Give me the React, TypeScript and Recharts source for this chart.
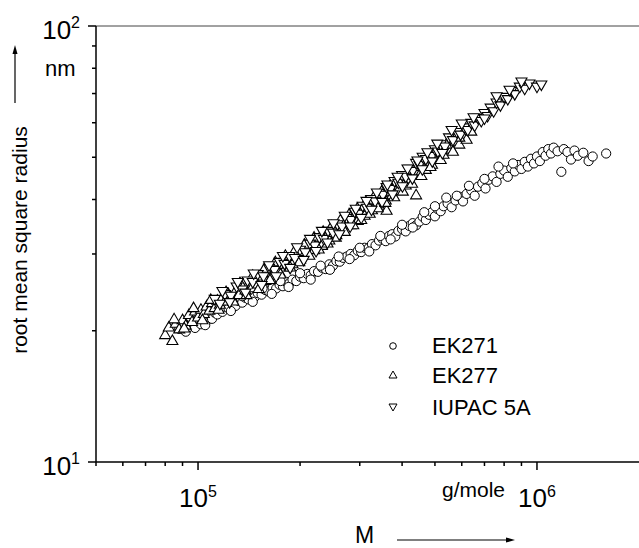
import React from "react";
import { ScatterChart, Scatter, XAxis, YAxis, ReferenceLine, Legend } from "recharts";

const FONT = "'Liberation Sans', Arial, sans-serif";

// EK271 (circles)
const ek271M = [
  88000, 90000, 92000, 94000, 96000, 98000, 100000, 102000, 104000, 106000,
  108000, 110000, 112000, 114000, 116000, 118000, 120000, 123000, 126000, 129000,
  132000, 135000, 138000, 141000, 144000, 147000, 150000, 154000, 158000, 162000,
  166000, 170000, 174000, 178000, 182000, 186000, 190000, 195000, 200000, 205000,
  210000, 215000, 220000, 226000, 232000, 238000, 244000, 250000, 256000, 262000,
  268000, 275000, 282000, 289000, 296000, 303000, 310000, 318000, 326000, 334000,
  342000, 350000, 358000, 366000, 374000, 382000, 390000, 400000, 410000, 420000,
  430000, 440000, 450000, 460000, 470000, 480000, 490000, 500000, 510000, 520000,
  530000, 545000, 560000, 575000, 590000, 605000, 620000, 640000, 655000, 670000,
  690000, 705000, 720000, 740000, 760000, 780000, 800000, 820000, 840000, 860000,
  880000, 900000, 920000, 940000, 960000, 980000, 1000000, 1020000, 1040000, 1060000,
  1080000, 1100000, 1120000, 1150000, 1180000, 1200000, 1230000, 1260000, 1290000, 1320000,
  1370000, 1420000, 1460000, 1600000,
  95000, 105000, 115000, 125000, 135000, 145000, 155000, 165000, 175000, 185000,
  200000, 215000, 230000, 245000, 260000, 280000, 300000, 320000, 345000, 370000,
  400000, 430000, 465000, 500000, 540000, 580000, 630000, 700000, 770000, 850000,
];
const ek271R = [
  20.2, 20.6, 19.9, 20.4, 20.9, 20.3, 21.0, 20.7, 21.4, 21.1,
  21.7, 21.3, 22.0, 21.8, 22.4, 22.1, 22.7, 22.5, 23.1, 22.8,
  23.4, 23.2, 23.8, 23.6, 24.1, 23.9, 24.4, 24.2, 24.8, 24.6,
  25.1, 25.0, 25.5, 25.3, 25.9, 25.7, 26.2, 26.0, 26.6, 26.4,
  27.0, 26.8, 27.4, 27.3, 27.9, 27.7, 28.4, 28.2, 28.9, 28.8,
  29.4, 29.6, 30.0, 29.8, 30.5, 30.3, 31.0, 30.9, 31.6, 31.4,
  32.2, 32.5, 32.1, 33.0, 33.3, 32.9, 33.9, 34.2, 33.8, 34.8,
  35.3, 34.9, 35.6, 36.5, 35.9, 36.9, 37.4, 36.6, 38.0, 37.6,
  38.6, 39.2, 38.4, 39.8, 40.6, 39.6, 41.2, 42.0, 40.8, 42.8,
  43.6, 42.4, 44.4, 45.2, 43.9, 45.8, 46.6, 45.1, 47.2, 46.4,
  48.0, 47.0, 48.8, 47.6, 49.6, 48.4, 50.2, 49.0, 51.4, 50.4,
  52.2, 51.0, 52.6, 51.6, 46.3, 52.2, 51.4, 49.4, 51.8, 50.4,
  51.2, 49.0, 50.2, 51.0,
  21.5, 20.6, 22.9, 22.2, 24.0, 23.3, 25.0, 24.3, 26.0, 25.2,
  27.1, 26.2, 28.2, 27.6, 29.6, 29.2, 31.0, 30.4, 33.0, 32.4,
  35.0, 34.5, 37.4, 38.6, 40.4, 40.8, 43.0, 44.6, 47.6, 48.4,
];

// EK277 (up triangles)
const ek277M = [
  80000, 82000, 84000, 86000, 88000, 90000, 92000, 94000, 96000, 98000,
  100000, 102000, 104000, 106000, 108000, 110000, 112000, 114000, 116000, 118000,
  120000, 123000, 126000, 129000, 132000, 135000, 138000, 141000, 144000, 147000,
  150000, 154000, 158000, 162000, 166000, 170000, 174000, 178000, 182000, 186000,
  190000, 195000, 200000, 205000, 210000, 215000, 220000, 226000, 232000, 238000,
  244000, 250000, 256000, 262000, 268000, 275000, 282000, 289000, 296000, 303000,
  310000, 318000, 326000, 334000, 342000, 345000, 350000, 358000, 360000, 366000,
  374000, 382000, 390000, 400000, 410000, 420000, 430000, 440000, 440000, 450000,
  460000, 470000, 480000, 490000, 500000, 510000, 520000, 530000, 545000, 560000,
  575000, 590000, 605000, 620000, 640000,
  85000, 91000, 97000, 103000, 109000, 115000, 121000, 127000, 133000, 139000,
  145000, 151000, 157000, 163000, 169000, 175000, 181000, 187000, 193000, 199000,
  206000, 213000, 220000, 227000, 234000, 241000, 248000, 255000, 263000, 271000,
  279000, 287000, 295000, 303000, 312000, 321000, 330000, 339000, 348000, 357000,
  368000, 379000, 390000, 402000, 415000, 428000, 442000, 456000, 470000, 485000,
  500000, 520000, 540000, 565000, 590000,
];
const ek277R = [
  19.6, 20.4, 19.0, 20.8, 20.2, 21.2, 20.6, 21.8, 21.0, 22.2,
  21.5, 22.4, 21.9, 22.8, 22.3, 23.2, 22.6, 23.5, 23.0, 23.9,
  23.4, 24.3, 23.8, 24.7, 24.2, 25.2, 24.8, 25.7, 25.1, 26.2,
  25.6, 26.7, 26.1, 27.2, 26.8, 27.9, 27.3, 28.4, 28.0, 29.1,
  28.5, 29.6, 29.2, 30.4, 30.0, 31.3, 30.7, 32.0, 31.4, 32.8,
  32.3, 33.6, 33.2, 34.6, 34.0, 35.5, 35.0, 36.4, 35.8, 37.4,
  36.8, 38.4, 37.9, 39.5, 38.8, 40.5, 40.6, 39.9, 37.8, 41.6,
  41.0, 42.7, 42.0, 43.8, 43.2, 45.6, 46.0, 41.0, 46.3, 45.6,
  47.6, 46.9, 48.8, 48.2, 50.2, 49.4, 51.6, 50.8, 53.0, 52.2,
  54.4, 53.6, 56.0, 55.0, 57.4,
  21.3, 20.3, 22.6, 21.2, 23.6, 22.4, 24.6, 23.4, 25.8, 24.2,
  26.8, 25.0, 27.8, 26.2, 28.8, 27.0, 29.8, 28.0, 30.6, 28.8,
  31.6, 29.8, 32.8, 30.8, 33.8, 31.8, 34.8, 32.8, 35.9, 33.8,
  37.0, 35.0, 38.2, 36.0, 39.4, 37.2, 40.6, 38.3, 41.8, 39.4,
  43.0, 40.6, 44.2, 41.8, 45.6, 43.6, 47.6, 45.4, 49.6, 47.6,
  51.6, 49.4, 53.6, 51.6, 55.6,
];

// IUPAC 5A (down triangles)
const iupacM = [
  112000, 116000, 120000, 125000, 130000, 135000, 140000, 145000, 150000, 156000,
  162000, 168000, 174000, 180000, 186000, 193000, 200000, 207000, 214000, 221000,
  228000, 235000, 242000, 250000, 258000, 266000, 274000, 282000, 290000, 298000,
  306000, 315000, 324000, 333000, 342000, 351000, 360000, 370000, 380000, 390000,
  400000, 410000, 420000, 430000, 440000, 450000, 460000, 470000, 480000, 490000,
  500000, 510000, 520000, 535000, 550000, 565000, 580000, 595000, 610000, 625000,
  640000, 655000, 670000, 685000, 700000, 715000, 730000, 745000, 760000, 780000,
  800000, 820000, 840000, 860000, 890000, 920000, 950000, 1000000, 1030000,
  118000, 124000, 131000, 138000, 146000, 154000, 162000, 170000, 178000, 187000,
  196000, 205000, 214000, 223000, 232000, 241000, 251000, 261000, 271000, 281000,
  292000, 303000, 314000, 325000, 337000, 349000, 362000, 375000, 388000, 401000,
  415000, 429000, 444000, 459000, 475000, 491000, 508000, 526000, 560000, 600000,
  650000, 700000, 760000, 830000, 900000,
];
const iupacR = [
  23.6, 23.0, 24.2, 24.0, 25.2, 24.8, 26.0, 25.8, 26.9, 26.6,
  27.8, 27.5, 28.7, 28.4, 29.6, 29.3, 30.6, 30.2, 31.6, 31.3,
  32.7, 32.4, 33.8, 33.5, 35.0, 34.6, 36.2, 35.8, 37.4, 37.0,
  38.6, 38.2, 40.0, 39.5, 41.3, 40.9, 42.6, 42.2, 44.0, 43.6,
  45.4, 45.0, 46.9, 46.4, 48.4, 47.9, 50.0, 49.4, 50.6, 50.2,
  52.0, 51.4, 53.4, 52.8, 55.4, 54.6, 57.0, 56.2, 58.4, 57.6,
  59.8, 59.0, 61.4, 60.4, 63.0, 62.0, 64.8, 63.6, 66.6, 65.6,
  68.6, 67.8, 70.8, 69.6, 72.4, 71.6, 73.6, 72.4, 73.2,
  24.6, 23.2, 25.8, 24.4, 27.0, 25.4, 28.2, 26.6, 29.6, 27.8,
  31.0, 29.0, 32.4, 30.4, 33.8, 31.8, 35.2, 33.2, 36.6, 34.6,
  38.0, 36.2, 39.6, 37.8, 41.4, 39.4, 43.2, 41.0, 45.0, 42.8,
  47.0, 44.6, 49.0, 46.8, 51.2, 48.8, 53.6, 51.0, 57.6, 59.6,
  61.6, 61.2, 68.8, 71.2, 74.4,
];

const xTicks = [
  50000, 60000, 70000, 80000, 90000, 100000, 200000, 300000, 400000, 500000,
  600000, 700000, 800000, 900000, 1000000,
];
const yTicks = [10, 20, 30, 40, 50, 60, 70, 80, 90, 100];
const majors = [10, 100, 100000, 1000000];

const toPoints = (m: number[], r: number[]) => m.map((v, i) => ({ m: v, r: r[i] }));

const circleShape = (p: any) => (
  <circle cx={p.cx} cy={p.cy} r={4.6} fill="#fff" stroke="#000" strokeWidth={1} />
);
const upShape = (p: any) => (
  <polygon
    points={`${p.cx},${p.cy - 5.5} ${p.cx - 5.5},${p.cy + 4} ${p.cx + 5.5},${p.cy + 4}`}
    fill="#fff"
    stroke="#000"
    strokeWidth={1.1}
  />
);
const downShape = (p: any) => (
  <polygon
    points={`${p.cx},${p.cy + 5.5} ${p.cx - 5.5},${p.cy - 4} ${p.cx + 5.5},${p.cy - 4}`}
    fill="#fff"
    stroke="#000"
    strokeWidth={1.1}
  />
);

function XTick({ x, y, payload }: any) {
  const v = payload.value;
  const major = majors.includes(v);
  return (
    <g>
      <line x1={x} y1={y} x2={x} y2={y + (major ? 8 : 4)} stroke="#000" strokeWidth={1.5} />
      {major && (
        <text x={x - 19} y={y + 45} fontSize={26} fontFamily={FONT} fill="#000">
          10
          <tspan fontSize={16} dy={-10}>
            {Math.round(Math.log10(v))}
          </tspan>
        </text>
      )}
    </g>
  );
}

function YTick({ x, y, payload }: any) {
  const v = payload.value;
  const major = majors.includes(v);
  return (
    <g>
      <line x1={x - (major ? 8 : 4)} y1={y} x2={x} y2={y} stroke="#000" strokeWidth={1.5} />
      {major && (
        <text x={x - 16} y={y + 13} fontSize={26} fontFamily={FONT} fill="#000" textAnchor="end">
          10
          <tspan fontSize={16} dy={-11}>
            {Math.round(Math.log10(v))}
          </tspan>
        </text>
      )}
    </g>
  );
}

const legendShapes: Record<string, (p: any) => React.ReactElement> = {
  EK271: (p) => <circle cx={p.cx} cy={p.cy} r={3.3} fill="#fff" stroke="#000" />,
  EK277: (p) => (
    <polygon points={`${p.cx},${p.cy - 4} ${p.cx - 4},${p.cy + 3} ${p.cx + 4},${p.cy + 3}`} fill="#fff" stroke="#000" />
  ),
  "IUPAC 5A": (p) => (
    <polygon points={`${p.cx},${p.cy + 4} ${p.cx - 4},${p.cy - 3} ${p.cx + 4},${p.cy - 3}`} fill="#fff" stroke="#000" />
  ),
};
const legendRows = [
  { name: "EK271", sy: 16, ty: 23 },
  { name: "EK277", sy: 45, ty: 53 },
  { name: "IUPAC 5A", sy: 77, ty: 85 },
];

const renderLegend = () => (
  <svg width={200} height={95}>
    {legendRows.map((row) => (
      <g key={row.name}>
        {legendShapes[row.name]({ cx: 13, cy: row.sy })}
        <text x={52} y={row.ty} fontSize={22} fontFamily={FONT} fill="#000">
          {row.name}
        </text>
      </g>
    ))}
  </svg>
);

export default function App() {
  return (
    <div style={{ position: "absolute", left: 0, top: 0, width: 639, height: 548, background: "#fff" }}>
      <ScatterChart width={639} height={548} margin={{ top: 26, right: 0, bottom: 0, left: 0 }}>
        <XAxis
          dataKey="m"
          type="number"
          scale="log"
          domain={[50000, 2000000]}
          allowDataOverflow
          ticks={xTicks}
          interval={0}
          height={86}
          tickSize={0}
          tickMargin={0}
          tickLine={false}
          axisLine={{ stroke: "#000", strokeWidth: 1.5 }}
          tick={<XTick />}
        />
        <YAxis
          dataKey="r"
          type="number"
          scale="log"
          domain={[10, 100]}
          allowDataOverflow
          ticks={yTicks}
          interval={0}
          width={96}
          tickSize={0}
          tickMargin={0}
          tickLine={false}
          axisLine={{ stroke: "#000", strokeWidth: 1.5 }}
          tick={<YTick />}
        />
        <ReferenceLine y={100} stroke="#444" strokeWidth={1} />
        <Scatter name="EK271" data={toPoints(ek271M, ek271R)} shape={circleShape} isAnimationActive={false} />
        <Scatter name="EK277" data={toPoints(ek277M, ek277R)} shape={upShape} isAnimationActive={false} />
        <Scatter name="IUPAC 5A" data={toPoints(iupacM, iupacR)} shape={downShape} isAnimationActive={false} />
        <Legend
          layout="vertical"
          align="center"
          verticalAlign="middle"
          content={renderLegend}
          wrapperStyle={{ position: "absolute", left: 380, top: 330, width: 200, height: 95 }}
        />
      </ScatterChart>
      <svg
        width={639}
        height={548}
        style={{ position: "absolute", left: 0, top: 0, pointerEvents: "none" }}
        fontFamily={FONT}
      >
        <line x1={15} y1={52} x2={15} y2={103} stroke="#000" strokeWidth={1.2} />
        <polygon points="15,45 12.5,54 17.5,54" fill="#000" />
        <text x={45} y={76} fontSize={22} fill="#000">
          nm
        </text>
        <text
          x={27}
          y={240}
          fontSize={21}
          fill="#000"
          textAnchor="middle"
          transform="rotate(-90 27 240)"
        >
          root mean square radius
        </text>
        <text x={442} y={497} fontSize={21} fill="#000">
          g/mole
        </text>
        <text x={355} y={543} fontSize={23} fill="#000">
          M
        </text>
        <line x1={397} y1={540} x2={507} y2={540} stroke="#000" strokeWidth={1.2} />
        <polygon points="515,540 506,537.5 506,542.5" fill="#000" />
      </svg>
    </div>
  );
}
